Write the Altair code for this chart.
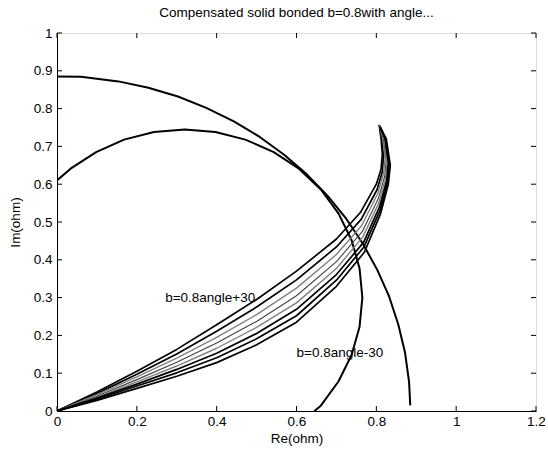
import altair as alt
import pandas as pd

# ---- data ----
outer_arc_x = [0.0, 0.06, 0.154, 0.229, 0.303, 0.374, 0.443, 0.508, 0.569, 0.626, 0.678, 0.725, 0.766, 0.802, 0.832, 0.855, 0.872, 0.882, 0.885]
outer_arc_y = [0.885, 0.884, 0.872, 0.855, 0.832, 0.802, 0.766, 0.725, 0.678, 0.626, 0.569, 0.508, 0.443, 0.374, 0.303, 0.229, 0.154, 0.077, 0.015]

inner_arc_x = [0.0, 0.034, 0.098, 0.168, 0.243, 0.32, 0.397, 0.472, 0.543, 0.606, 0.661, 0.705, 0.738, 0.758, 0.765, 0.758, 0.738, 0.705, 0.661, 0.645]
inner_arc_y = [0.61, 0.641, 0.685, 0.718, 0.738, 0.745, 0.738, 0.718, 0.685, 0.641, 0.586, 0.523, 0.452, 0.377, 0.3, 0.223, 0.148, 0.078, 0.014, 0.0]

bundle_x = [
    [0, 0.1, 0.2, 0.3, 0.4, 0.5, 0.6, 0.7, 0.760, 0.800, 0.812, 0.815, 0.812, 0.807],
    [0, 0.1, 0.2, 0.3, 0.4, 0.5, 0.6, 0.7, 0.762, 0.802, 0.815, 0.818, 0.814, 0.808],
    [0, 0.1, 0.2, 0.3, 0.4, 0.5, 0.6, 0.7, 0.763, 0.803, 0.818, 0.822, 0.816, 0.808],
    [0, 0.1, 0.2, 0.3, 0.4, 0.5, 0.6, 0.7, 0.765, 0.805, 0.821, 0.825, 0.818, 0.808],
    [0, 0.1, 0.2, 0.3, 0.4, 0.5, 0.6, 0.7, 0.766, 0.806, 0.823, 0.827, 0.820, 0.809],
    [0, 0.1, 0.2, 0.3, 0.4, 0.5, 0.6, 0.7, 0.768, 0.808, 0.826, 0.830, 0.822, 0.809],
    [0, 0.1, 0.2, 0.3, 0.4, 0.5, 0.6, 0.7, 0.769, 0.809, 0.828, 0.832, 0.823, 0.810],
    [0, 0.1, 0.2, 0.3, 0.4, 0.5, 0.6, 0.7, 0.770, 0.810, 0.830, 0.835, 0.825, 0.810],
]
bundle_y = [
    [0, 0.050, 0.105, 0.163, 0.228, 0.295, 0.370, 0.455, 0.525, 0.600, 0.640, 0.680, 0.72, 0.757],
    [0, 0.046, 0.097, 0.151, 0.211, 0.275, 0.347, 0.434, 0.507, 0.586, 0.633, 0.675, 0.72, 0.756],
    [0, 0.043, 0.090, 0.140, 0.195, 0.255, 0.325, 0.414, 0.490, 0.574, 0.627, 0.670, 0.72, 0.755],
    [0, 0.039, 0.083, 0.129, 0.180, 0.237, 0.305, 0.395, 0.475, 0.562, 0.621, 0.666, 0.72, 0.754],
    [0, 0.036, 0.077, 0.119, 0.166, 0.221, 0.286, 0.377, 0.460, 0.550, 0.615, 0.661, 0.72, 0.753],
    [0, 0.034, 0.071, 0.110, 0.153, 0.205, 0.269, 0.361, 0.446, 0.540, 0.610, 0.658, 0.72, 0.752],
    [0, 0.031, 0.066, 0.101, 0.141, 0.191, 0.252, 0.346, 0.434, 0.530, 0.605, 0.654, 0.72, 0.751],
    [0, 0.028, 0.060, 0.092, 0.128, 0.175, 0.235, 0.330, 0.420, 0.520, 0.600, 0.650, 0.72, 0.750],
]
bundle_colors = ["#000000", "#000000", "#808080", "#404040", "#808080", "#000000", "#000000", "#000000"]
bundle_widths = [1.7, 1.7, 1.4, 1.1, 1.4, 1.7, 1.7, 1.7]

label_text = ["b=0.8angle+30", "b=0.8angle-30"]
label_x = [0.271, 0.600]
label_y = [0.300, 0.153]

x_ticks = [0, 0.2, 0.4, 0.6, 0.8, 1.0, 1.2]
y_ticks = [0, 0.1, 0.2, 0.3, 0.4, 0.5, 0.6, 0.7, 0.8, 0.9, 1.0]

W, H = 479, 378
FONT = "Liberation Sans"
FS = 13.5

# ---- build table ----
rows = []
def add(name, xs, ys, color, width):
    for i, (a, b) in enumerate(zip(xs, ys)):
        rows.append({"name": name, "i": i, "x": a, "y": b, "c": color, "w": width})

add("outer", outer_arc_x, outer_arc_y, "#000000", 2.0)
add("inner", inner_arc_x, inner_arc_y, "#000000", 2.0)
for k in range(len(bundle_x)):
    add(f"b{k}", bundle_x[k], bundle_y[k], bundle_colors[k], bundle_widths[k])
df = pd.DataFrame(rows)

xs = alt.Scale(domain=[0, 1.2], nice=False, zero=False)
ys = alt.Scale(domain=[0, 1], nice=False, zero=False)

common_axis = dict(grid=False, tickSize=0, labelOverlap=False, labelFlush=False,
                   labelFont=FONT, titleFont=FONT, labelFontSize=FS, titleFontSize=FS,
                   titleFontWeight="normal", labelColor="#000", titleColor="#000",
                   domainColor="#000", format="~g")
x_axis = alt.Axis(values=x_ticks, labelPadding=3, titlePadding=4, **common_axis)
y_axis = alt.Axis(values=y_ticks, labelPadding=5, titlePadding=11, **common_axis)

def X(f):
    return alt.X(f, type="quantitative", scale=xs, title="Re(ohm)", axis=x_axis)

def Y(f):
    return alt.Y(f, type="quantitative", scale=ys, title="Im(ohm)", axis=y_axis)

lines = alt.Chart(df).mark_line(strokeJoin="round", clip=True).encode(
    x=X("x"), y=Y("y"),
    detail="name:N",
    order="i:Q",
    color=alt.Color("c:N", scale=None),
    strokeWidth=alt.StrokeWidth("w:Q", scale=None),
)

labels_df = pd.DataFrame({"t": label_text, "x": label_x, "y": label_y})
labels = alt.Chart(labels_df).mark_text(align="left", baseline="middle", font=FONT,
                                        fontSize=FS, color="#000").encode(
    x=X("x"), y=Y("y"), text="t:N")

xt = pd.DataFrame({"v": x_ticks})
yt = pd.DataFrame({"v": y_ticks})
tick_b = alt.Chart(xt).mark_rule(color="#000").encode(
    x=X("v"), y=alt.value(H), y2=alt.value(H - 5))
tick_t = alt.Chart(xt).mark_rule(color="#000").encode(
    x=X("v"), y=alt.value(0), y2=alt.value(5))
tick_l = alt.Chart(yt).mark_rule(color="#000").encode(
    y=Y("v"), x=alt.value(0), x2=alt.value(5))
tick_r = alt.Chart(yt).mark_rule(color="#000").encode(
    y=Y("v"), x=alt.value(W), x2=alt.value(W - 5))

chart = alt.layer(lines, labels, tick_b, tick_t, tick_l, tick_r).properties(
    width=W, height=H,
    title=alt.TitleParams("Compensated solid bonded b=0.8with angle...", font=FONT,
                          fontSize=FS, fontWeight="normal", color="#000",
                          anchor="middle", offset=7),
    autosize="none",
    padding={"left": 57, "top": 33, "right": 12, "bottom": 39},
).configure_view(stroke="#000", strokeWidth=1).configure(background="white")

chart.save("out.html", embed_options={"renderer": "svg", "actions": False})
